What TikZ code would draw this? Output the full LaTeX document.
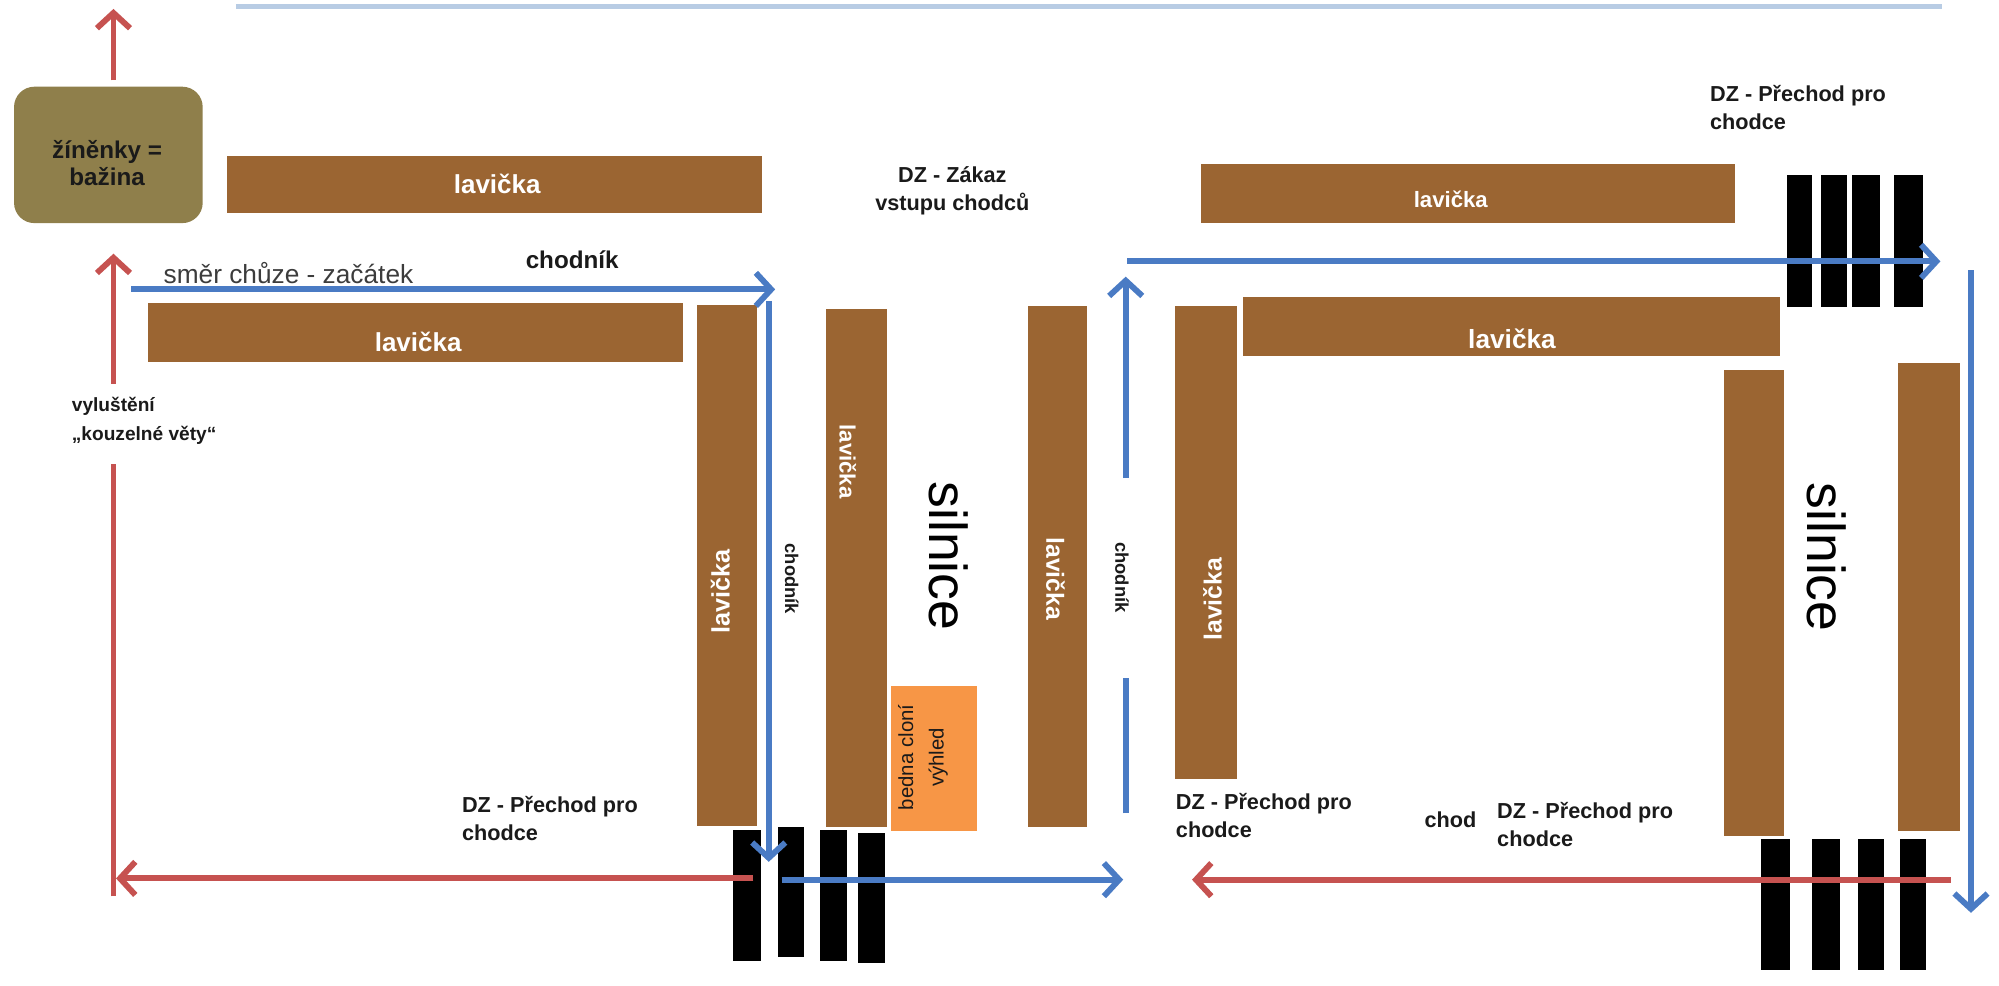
\documentclass[tikz,border=0pt]{standalone}
\usepackage{fontspec}
\setmainfont{Liberation Sans}
\usetikzlibrary{arrows.meta}
\definecolor{benchbrown}{HTML}{9B6532}
\definecolor{mattolive}{HTML}{8F7F4B}
\definecolor{boxorange}{HTML}{F79646}
\definecolor{walkblue}{HTML}{4A7BC4}
\definecolor{backred}{HTML}{C65250}
\definecolor{toplineblue}{HTML}{B8CCE4}
\definecolor{darktext}{HTML}{1A1A1A}
\tikzset{
  bench/.style={fill=benchbrown, draw=none, inner sep=0pt},
  benchtext/.style={text=white, font=\bfseries\fontsize{#1}{#1}\selectfont, inner sep=0pt},
  stripe/.style={fill=black, draw=none},
  bluepath/.style={draw=walkblue, line width=2.3pt},
  redpath/.style={draw=backred, line width=2.3pt},
  tipped/.style={-{Straight Barb[length=6pt,width=13pt]}},
  label/.style={text=darktext, font=\bfseries\fontsize{8.5}{11}\selectfont, align=left, inner sep=0pt},
}
\begin{document}
\begin{tikzpicture}[x=0.5pt,y=-0.5pt]
\useasboundingbox (0,0) rectangle (1568,773);

% top light line
\draw[toplineblue, line width=2pt] (185,5) -- (1523,5);

% mats
\node[fill=mattolive, rounded corners=8pt, minimum width=74pt, minimum height=53.5pt, inner sep=0pt] (mat) at (85,121.5) {};
\node[text=darktext, font=\bfseries\fontsize{9.5}{10.8}\selectfont, align=center, inner sep=0pt] (mattext) at (84,128) {žíněnky =\\bažina};

% horizontal benches
\node[bench, minimum width=210pt, minimum height=22.5pt] (benchA) at (388,144.5) {};
\node[bench, minimum width=209.5pt, minimum height=23pt] (benchB) at (1151.5,152) {};
\node[bench, minimum width=210pt, minimum height=23pt] (benchC) at (326,261) {};
\node[bench, minimum width=210.5pt, minimum height=23pt] (benchH) at (1185.5,256) {};
% vertical benches
\node[bench, minimum width=23.5pt, minimum height=204.5pt] (benchD) at (570.5,443.5) {};
\node[bench, minimum width=24pt, minimum height=203.5pt] (benchE) at (672,445.5) {};
\node[bench, minimum width=23.5pt, minimum height=204.5pt] (benchF) at (829.5,444.5) {};
\node[bench, minimum width=24pt, minimum height=185.5pt] (benchG) at (946,425.5) {};
\node[bench, minimum width=23.5pt, minimum height=183pt] (benchI) at (1375.5,473) {};
\node[bench, minimum width=24pt, minimum height=183.5pt] (benchJ) at (1513,468.5) {};

% bench labels
\node[benchtext=10.2] (tA) at (390,144) {lavička};
\node[benchtext=8.7] (tB) at (1138,156) {lavička};
\node[benchtext=10.2] (tC) at (328,268) {lavička};
\node[benchtext=10.3] (tH) at (1186,266) {lavička};
\node[benchtext=9.9, rotate=90] (tD) at (565,464) {lavička};
\node[benchtext=8.7, rotate=-90] (tE) at (665,362) {lavička};
\node[benchtext=9.7, rotate=-90] (tF) at (828,454) {lavička};
\node[benchtext=9.7, rotate=90] (tG) at (951,470) {lavička};

% box blocking view
\node[fill=boxorange, minimum width=33.5pt, minimum height=57pt, inner sep=0pt] (box) at (732.5,595) {};
\node[rotate=90, text=darktext, font=\fontsize{8}{12}\selectfont, align=center, inner sep=0pt] (boxtext) at (724,594) {bedna cloní\\výhled};

% crossings (stripes)
\fill[stripe] (1402,137) rectangle (1421,241);
\fill[stripe] (1428,137) rectangle (1449,241);
\fill[stripe] (1453,137) rectangle (1475,241);
\fill[stripe] (1486,137) rectangle (1508,241);

\fill[stripe] (575,651) rectangle (597,754);
\fill[stripe] (610,649) rectangle (631,751);
\fill[stripe] (643,651) rectangle (664,754);
\fill[stripe] (673,653) rectangle (694,755);

\fill[stripe] (1381,658) rectangle (1404,761);
\fill[stripe] (1421,658) rectangle (1443,761);
\fill[stripe] (1457,658) rectangle (1478,761);
\fill[stripe] (1490,658) rectangle (1511,761);

% road labels
\node[rotate=-90, font=\fontsize{21}{21}\selectfont, inner sep=0pt] (road1) at (744,436) {silnice};
\node[rotate=-90, font=\fontsize{21}{21}\selectfont, inner sep=0pt] (road2) at (1433,437) {silnice};
\node[rotate=-90, text=darktext, font=\bfseries\fontsize{7.2}{7.2}\selectfont, inner sep=0pt] (walk1) at (621,454) {chodník};
\node[rotate=-90, text=darktext, font=\bfseries\fontsize{7.2}{7.2}\selectfont, inner sep=0pt] (walk2) at (880,453) {chodník};

% texts
\node[label, anchor=west] (cross1) at (1341,84) {DZ - Přechod pro\\chodce};
\node[label, anchor=west] (cross2) at (362,642) {DZ - Přechod pro\\chodce};
\node[label, anchor=west] (cross3) at (922,640) {DZ - Přechod pro\\chodce};
\node[label, anchor=west] (cross4) at (1174,646.5) {DZ - Přechod pro\\chodce};
\node[label, anchor=west] (chod) at (1117,643) {chod};
\node[label, align=center] (noentry) at (747,149.5) {DZ - Zákaz\\vstupu chodců};
\node[text=darktext, font=\bfseries\fontsize{9.5}{9.5}\selectfont, anchor=west, inner sep=0pt] (walk0) at (412,204) {chodník};
\node[text=darktext!85, font=\fontsize{10.3}{10.3}\selectfont, anchor=west, inner sep=0pt] (start) at (128,214) {směr chůze - začátek};
\node[text=darktext, font=\bfseries\fontsize{7.5}{11.5}\selectfont, anchor=west, align=left, inner sep=0pt] (solve) at (56,330) {vyluštění\\„kouzelné věty“};

% coordinates of the walking route
\coordinate (r0) at (89,63);
\coordinate (r1) at (89,7);
\coordinate (r2) at (89,703);
\coordinate (r3) at (89,364);
\coordinate (r4) at (89,301);
\coordinate (r5) at (89,199);
\coordinate (r6) at (591,689);
\coordinate (r7) at (91,689);
\coordinate (r8) at (1530,690);
\coordinate (r9) at (935,690);

\coordinate (b0) at (103,227);
\coordinate (b1) at (608,227);
\coordinate (b2) at (603,236);
\coordinate (b3) at (603,676);
\coordinate (b4) at (613,690);
\coordinate (b5) at (881,690);
\coordinate (b6) at (883,638);
\coordinate (b7) at (883,532);
\coordinate (b8) at (883,375);
\coordinate (b9) at (883,217);
\coordinate (b10) at (884,205);
\coordinate (b11) at (1522,205);
\coordinate (b12) at (1546,212);
\coordinate (b13) at (1546,716);

% red route
\draw[redpath, tipped] (r0) -- (r1);
\draw[redpath] (r2) -- (r3);
\draw[redpath, tipped] (r4) -- (r5);
\draw[redpath, tipped] (r6) -- (r7);
\draw[redpath, tipped] (r8) -- (r9);

% blue route
\draw[bluepath, tipped] (b0) -- (b1);
\draw[bluepath, tipped] (b2) -- (b3);
\draw[bluepath, tipped] (b4) -- (b5);
\draw[bluepath] (b6) -- (b7);
\draw[bluepath, tipped] (b8) -- (b9);
\draw[bluepath, tipped] (b10) -- (b11);
\draw[bluepath, tipped] (b12) -- (b13);
\end{tikzpicture}
\end{document}
